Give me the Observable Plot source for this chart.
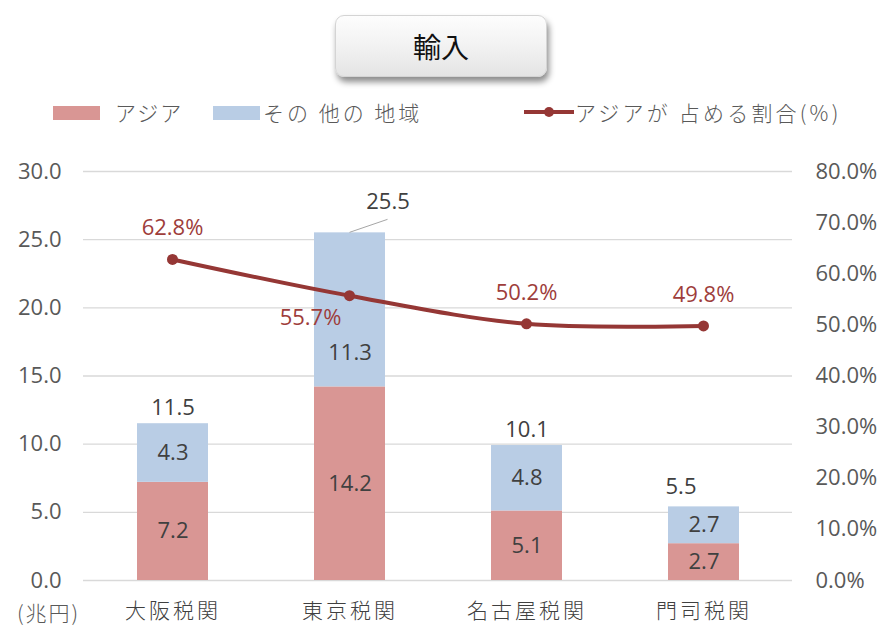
<!DOCTYPE html>
<html><head><meta charset="utf-8">
<script src="https://cdn.jsdelivr.net/npm/d3@7"></script>
<script src="https://cdn.jsdelivr.net/npm/@observablehq/plot@0.6"></script>
<style>
body{margin:0;background:#fff;font-family:"Noto Sans CJK JP","Noto Sans",sans-serif;}
#wrap{position:relative;width:884px;height:628px;overflow:hidden;background:#fff}
#title{position:absolute;left:335px;top:15px;width:210px;height:60px;border-radius:9px;
  background:linear-gradient(#fdfdfd,#f2f2f2 50%,#e4e4e4);border:1px solid #d4d4d4;
  box-shadow:2px 5px 6px rgba(0,0,0,0.45);display:flex;align-items:center;justify-content:center;
  font-size:28px;color:#111;}
.sw{position:absolute;top:106px;width:47px;height:14px}
.lt{position:absolute;top:97px;font-size:21px;color:#595959;letter-spacing:2px;line-height:30px;white-space:nowrap;font-weight:300}
#unit{position:absolute;left:17px;top:597px;font-size:21px;color:#595959;line-height:30px;font-weight:300;letter-spacing:2px}
.chart{position:absolute;left:0;top:140px}
#c1 g[aria-label="x-axis tick label"] text{letter-spacing:3px;font-weight:300}
</style></head><body>
<div id="wrap">
  <div id="title"></div>
  <div class="sw" id="sw0" style="left:53px"></div>
  <div class="lt" id="lt0" style="left:115px"></div>
  <div class="sw" id="sw1" style="left:213px"></div>
  <div class="lt" id="lt1" style="left:263px;letter-spacing:3px"></div>
  <svg style="position:absolute;left:523px;top:102px" width="52" height="20"><line x1="1" y1="10" x2="51" y2="10" stroke="#953735" stroke-width="4"/><circle cx="26" cy="10" r="5" fill="#953735"/></svg>
  <div class="lt" id="lt2" style="left:575px;letter-spacing:3.2px"></div>
  <div id="unit"></div>
  <div class="chart" id="c1"></div>
  <div class="chart" id="c2"></div>
</div>
<script>
const titleText = "輸入";
const categories = ["大阪税関","東京税関","名古屋税関","門司税関"];
const seriesNames = ["アジア","その 他の 地域"];
const lineName = "アジアが 占める割合(%)";
const unitLabel = "(兆円)";
const asia = [7.2,14.2,5.1,2.7];
const other = [4.3,11.3,4.8,2.7];
const totals = [11.5,25.5,10.1,5.5];
const shares = [62.8,55.7,50.2,49.8];
const leftTicks = [0,5,10,15,20,25,30];
const rightTicks = [0,10,20,30,40,50,60,70,80];

const colors = ["#d99694","#b9cde5"];
const lineColor = "#953735";
const W = 884, H = 488;
const M = {top:31, right:92, bottom:48, left:83};

document.getElementById("title").textContent = titleText;
document.getElementById("lt0").textContent = seriesNames[0];
document.getElementById("lt1").textContent = seriesNames[1];
document.getElementById("lt2").textContent = lineName;
document.getElementById("unit").textContent = unitLabel;
document.getElementById("sw0").style.background = colors[0];
document.getElementById("sw1").style.background = colors[1];

const rows = [];
categories.forEach((c,i)=>{
  rows.push({cat:c, series:seriesNames[0], value:asia[i], i, s:0});
  rows.push({cat:c, series:seriesNames[1], value:other[i], i, s:1});
});
const totalRows = categories.map((c,i)=>({cat:c, total:totals[i], i}));
const shareRows = categories.map((c,i)=>({cat:c, share:shares[i], i}));

// label offsets (style only)
const totalDx = [0, 38, 0, -23];
const totalDy = [-16, -31, -13, -19];
const shareDx = [0, -39, 0, 0];
const shareDy = [-31, 22, -31, -31];
const shifted = (r) => r.i === 1 && r.s === 1;

const font = '"Noto Sans CJK JP","Noto Sans",sans-serif';
const numFont = '"Open Sans","Noto Sans",sans-serif';
const common = {
  width: W, height: H,
  marginTop: M.top, marginRight: M.right, marginBottom: M.bottom, marginLeft: M.left,
  style: {fontFamily: font, fontSize: "20px", color: "#595959", background: "transparent", overflow: "visible"}
};
const segText = {fontSize:22, fontFamily:numFont, fill:"#404040"};

const p1 = Plot.plot({
  ...common,
  x: {type:"band", domain: categories, paddingInner: 0.6, paddingOuter: 0.3, label: null},
  y: {domain: [0,30], label: null},
  color: {domain: seriesNames, range: colors},
  marks: [
    Plot.gridY(leftTicks, {stroke:"#d9d9d9", strokeOpacity:1, strokeWidth:1.3}),
    Plot.barY(rows, {x:"cat", y:"value", fill:"series"}),
    Plot.text(rows, Plot.stackY({x:"cat", y:"value", z:"series", text: d=> shifted(d) ? "" : d.value.toFixed(1), ...segText})),
    Plot.text(rows, Plot.stackY({x:"cat", y:"value", z:"series", text: d=> shifted(d) ? d.value.toFixed(1) : "", dy: 43, ...segText})),
    ...totalRows.map(r => Plot.text([r], {x:"cat", y:"total", text: d=>d.total.toFixed(1), ...segText, dx: totalDx[r.i], dy: totalDy[r.i]})),
    Plot.axisY(leftTicks, {anchor:"left", tickSize:0, tickPadding:22, tickFormat: d=>d.toFixed(1), fontSize:22, fontFamily:numFont, label:null}),
    Plot.axisX({anchor:"bottom", tickSize:0, tickPadding:23, fontSize:21, label:null, fill:"#404040"})
  ]
});
document.getElementById("c1").appendChild(p1);

// leader line for the 東京 total label, positioned with the plot's scales
{
  const sx = p1.scale("x"), sy = p1.scale("y");
  const k = 1;
  const x0 = sx.apply(categories[k]) + sx.bandwidth/2;
  const y0 = sy.apply(asia[k] + other[k]);
  d3.select(p1).append("line")
    .attr("x1", x0).attr("y1", y0).attr("x2", x0+38).attr("y2", y0-13)
    .attr("stroke", "#a6a6a6").attr("stroke-width", 1);
}

const p2 = Plot.plot({
  ...common,
  x: {type:"point", domain: categories, padding: 0.5, axis: null},
  y: {domain: [0,80], label: null},
  marks: [
    Plot.line(shareRows, {x:"cat", y:"share", stroke: lineColor, strokeWidth: 4, curve: "catmull-rom"}),
    Plot.dot(shareRows, {x:"cat", y:"share", r:5.5, fill: lineColor}),
    ...shareRows.map(r => Plot.text([r], {x:"cat", y:"share", text: d=>d.share.toFixed(1)+"%", fontSize:22, fontFamily:numFont, fill:"#9e3d3b", dx: shareDx[r.i], dy: shareDy[r.i]})),
    Plot.axisY(rightTicks, {anchor:"right", tickSize:0, tickPadding:23, tickFormat: d=>d.toFixed(1)+"%", fontSize:22, fontFamily:numFont, label:null})
  ]
});
document.getElementById("c2").appendChild(p2);
</script>
</body></html>
